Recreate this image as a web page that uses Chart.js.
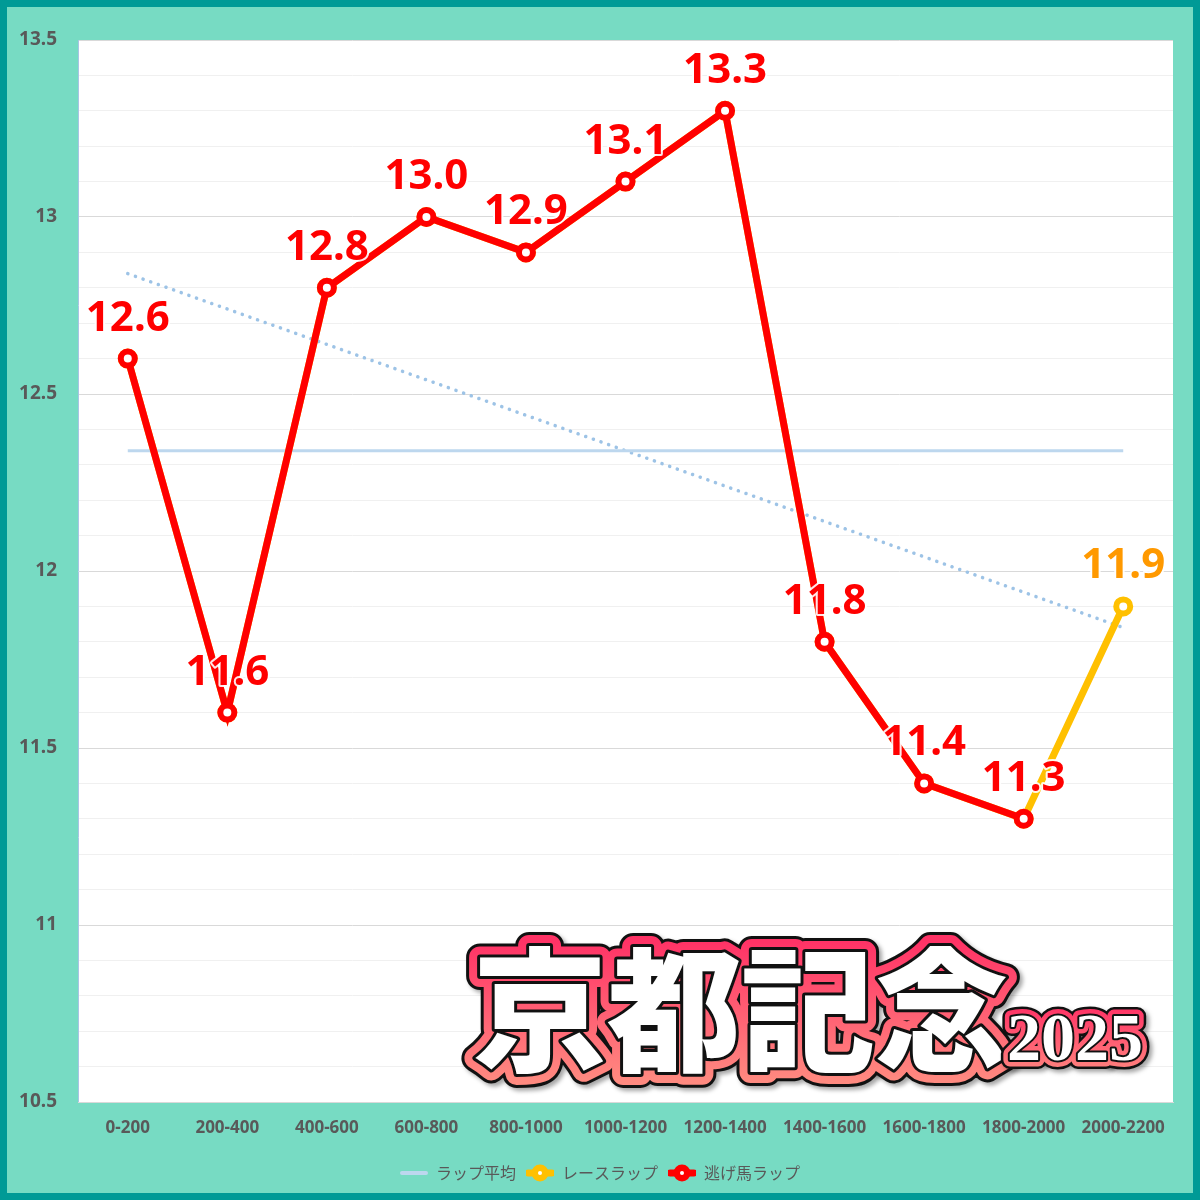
<!DOCTYPE html>
<html>
<head>
<meta charset="utf-8">
<script src="https://cdn.jsdelivr.net/npm/chart.js@4/dist/chart.umd.min.js"></script>
<style>
    html, body { margin: 0; padding: 0; background: #009a96; }
    #frame {
        width: 1186px; height: 1186px;
        border: 7px solid #009a96;
        background: #77dbc3;
        border-radius: 6px;
    }
    canvas { display: block; }
</style>
</head>
<body>
<div id="frame"><canvas id="lapChart" width="1186" height="1186"></canvas></div>
<script>
// 区間ラベル
const sections = ['0-200', '200-400', '400-600', '600-800', '800-1000', '1000-1200',
    '1200-1400', '1400-1600', '1600-1800', '1800-2000', '2000-2200'];
// レースラップ
const raceLap = [12.6, 11.6, 12.8, 13.0, 12.9, 13.1, 13.3, 11.8, 11.4, 11.3, 11.9];
// 逃げ馬ラップ (ゴール前の区間はなし)
const leaderLap = [12.6, 11.6, 12.8, 13.0, 12.9, 13.1, 13.3, 11.8, 11.4, 11.3, null];
// ラップ平均
const lapAverage = [12.34, 12.34, 12.34, 12.34, 12.34, 12.34, 12.34, 12.34, 12.34, 12.34, 12.34];
// 近似直線 (両端のみ)
const trendLine = [12.84, null, null, null, null, null, null, null, null, null, 11.84];
// Y軸の範囲
const yMin = 10.5;
const yMax = 13.5;

const RED = '#ff0000';
const YELLOW = '#ffc000';
const ORANGE = '#ff9900';
const AVG_BLUE = '#bdd7ee';
const TREND_BLUE = '#9dc3e6';
const TEXT_GRAY = '#595959';

// 凡例アイコン
function makeIcon(color, withMarker) {
    const c = document.createElement('canvas');
    c.width = 28;
    c.height = 20;
    const g = c.getContext('2d');
    g.strokeStyle = color;
    g.lineCap = 'round';
    g.lineWidth = withMarker ? 7 : 4;
    g.beginPath();
    g.moveTo(2, 10);
    g.lineTo(26, 10);
    g.stroke();
    if (withMarker) {
        g.fillStyle = color;
        g.beginPath();
        g.arc(14, 10, 8.5, 0, Math.PI * 2);
        g.fill();
        g.fillStyle = '#ffffff';
        g.beginPath();
        g.arc(14, 10, 2, 0, Math.PI * 2);
        g.fill();
    }
    return c;
}
const legendIcons = [makeIcon(AVG_BLUE, false), makeIcon(YELLOW, true), makeIcon(RED, true)];

// 白い背景のプロットエリア + 凡例を中央へ
const plotBackground = {
    id: 'plotBackground',
    afterLayout(chart) {
        // 右側の余白ぶん凡例がずれるので戻す
        chart.legend.left += 10;
        chart.legend.right += 10;
    },
    beforeDraw(chart) {
        const { ctx, chartArea: a } = chart;
        ctx.save();
        ctx.fillStyle = '#ffffff';
        ctx.fillRect(a.left, a.top, a.right - a.left, a.bottom - a.top);
        ctx.restore();
    }
};

// 値ラベル
const valueLabels = {
    id: 'valueLabels',
    afterDatasetsDraw(chart) {
        const ctx = chart.ctx;
        const leaderMeta = chart.getDatasetMeta(0);
        const raceMeta = chart.getDatasetMeta(1);
        ctx.save();
        ctx.font = 'bold 42px "Noto Sans", "Open Sans", sans-serif';
        ctx.textAlign = 'center';
        ctx.textBaseline = 'middle';
        ctx.lineJoin = 'round';
        raceLap.forEach((v, i) => {
            const fromLeader = leaderLap[i] !== null;
            const pt = fromLeader ? leaderMeta.data[i] : raceMeta.data[i];
            const text = (fromLeader ? leaderLap[i] : v).toFixed(1);
            ctx.strokeStyle = 'rgba(255,255,255,0.9)';
            ctx.lineWidth = 4;
            ctx.strokeText(text, pt.x, pt.y - 40);
            ctx.fillStyle = fromLeader ? RED : ORANGE;
            ctx.fillText(text, pt.x, pt.y - 40);
        });
        ctx.restore();
    }
};

// タイトル文字
const titleArt = {
    id: 'titleArt',
    afterDraw(chart) {
        const ctx = chart.ctx;
        ctx.save();
        ctx.lineJoin = 'round';
        ctx.textBaseline = 'middle';
        ctx.textAlign = 'left';

        const layers = (text, x, y, font, outer, mid, inner, top, bottom) => {
            ctx.font = font;
            const grad = ctx.createLinearGradient(0, top, 0, bottom);
            grad.addColorStop(0, '#ff3366');
            grad.addColorStop(1, '#ff8a80');
            ctx.shadowColor = 'rgba(0,0,0,0.35)';
            ctx.shadowOffsetX = 3;
            ctx.shadowOffsetY = 3;
            ctx.shadowBlur = 4;
            ctx.strokeStyle = '#111111';
            ctx.lineWidth = outer;
            ctx.strokeText(text, x, y);
            ctx.shadowColor = 'transparent';
            ctx.strokeStyle = grad;
            ctx.lineWidth = mid;
            ctx.strokeText(text, x, y);
            ctx.strokeStyle = '#111111';
            ctx.lineWidth = inner;
            ctx.strokeText(text, x, y);
            ctx.fillStyle = '#ffffff';
            ctx.fillText(text, x, y);
        };

        layers('京都記念', 466, 1003, '900 134px "Noto Sans CJK JP", sans-serif', 28, 22, 6, 935, 1075);
        layers('2025', 1000, 1035, 'bold 68px "Liberation Serif", "DejaVu Serif", serif', 18, 13, 4, 1000, 1070);
        ctx.restore();
    }
};

const ctx = document.getElementById('lapChart').getContext('2d');

const lapChart = new Chart(ctx, {
    type: 'line',
    data: {
        labels: sections,
        datasets: [
            {
                label: '逃げ馬ラップ',
                data: leaderLap,
                borderColor: RED,
                backgroundColor: '#ffffff',
                borderWidth: 7,
                pointRadius: 7,
                pointBorderWidth: 6,
                pointBorderColor: RED,
                pointBackgroundColor: '#ffffff',
                order: 1
            },
            {
                label: 'レースラップ',
                data: raceLap,
                borderColor: YELLOW,
                backgroundColor: '#ffffff',
                borderWidth: 7,
                pointRadius: 7,
                pointBorderWidth: 6,
                pointBorderColor: YELLOW,
                pointBackgroundColor: '#ffffff',
                order: 2
            },
            {
                label: 'ラップ平均',
                data: lapAverage,
                borderColor: AVG_BLUE,
                borderWidth: 3,
                pointRadius: 0,
                order: 3
            },
            {
                label: 'trend',
                data: trendLine,
                borderColor: TREND_BLUE,
                borderWidth: 3.5,
                borderDash: [0.1, 8],
                borderCapStyle: 'round',
                pointRadius: 0,
                spanGaps: true,
                order: 4
            }
        ]
    },
    options: {
        responsive: false,
        animation: false,
        layout: {
            padding: { top: 33, right: 20, bottom: 2, left: 0 }
        },
        plugins: {
            tooltip: { enabled: false },
            title: { display: false },
            legend: {
                position: 'bottom',
                labels: {
                    usePointStyle: true,
                    pointStyleWidth: 28,
                    padding: 10,
                    color: TEXT_GRAY,
                    font: { size: 16, family: '"Noto Sans CJK JP", sans-serif' },
                    generateLabels: function () {
                        return [
                            { text: 'ラップ平均', pointStyle: legendIcons[0], datasetIndex: 2, fontColor: TEXT_GRAY, lineWidth: 0, strokeStyle: 'transparent', fillStyle: 'transparent' },
                            { text: 'レースラップ', pointStyle: legendIcons[1], datasetIndex: 1, fontColor: TEXT_GRAY, lineWidth: 0, strokeStyle: 'transparent', fillStyle: 'transparent' },
                            { text: '逃げ馬ラップ', pointStyle: legendIcons[2], datasetIndex: 0, fontColor: TEXT_GRAY, lineWidth: 0, strokeStyle: 'transparent', fillStyle: 'transparent' }
                        ];
                    }
                }
            }
        },
        scales: {
            y: {
                type: 'linear',
                min: yMin,
                max: yMax,
                afterFit: function (scale) { scale.width = 71; },
                border: { display: true, color: '#a9c4e4', width: 1 },
                grid: {
                    drawTicks: false,
                    color: function (c) {
                        const v = c.tick ? c.tick.value : 0;
                        return Math.abs(v * 2 - Math.round(v * 2)) < 1e-6 ? '#d9d9d9' : '#f0f0f0';
                    }
                },
                ticks: {
                    stepSize: 0.1,
                    autoSkip: false,
                    padding: 21,
                    color: TEXT_GRAY,
                    font: { size: 19, weight: 'bold', family: '"Noto Sans", "Open Sans", sans-serif' },
                    callback: function (value) {
                        if (Math.abs(value * 2 - Math.round(value * 2)) > 1e-6) {
                            return '';
                        }
                        return String(Math.round(value * 10) / 10);
                    }
                }
            },
            x: {
                type: 'category',
                offset: true,
                afterFit: function (scale) { scale.height = 53; },
                border: { display: true, color: '#d9d9d9', width: 1 },
                grid: { display: false },
                ticks: {
                    padding: 8,
                    maxRotation: 0,
                    autoSkip: false,
                    color: TEXT_GRAY,
                    font: { size: 17, weight: 'bold', family: '"Noto Sans", "Open Sans", sans-serif' }
                }
            }
        }
    },
    plugins: [plotBackground, valueLabels, titleArt]
});
</script>
</body>
</html>
